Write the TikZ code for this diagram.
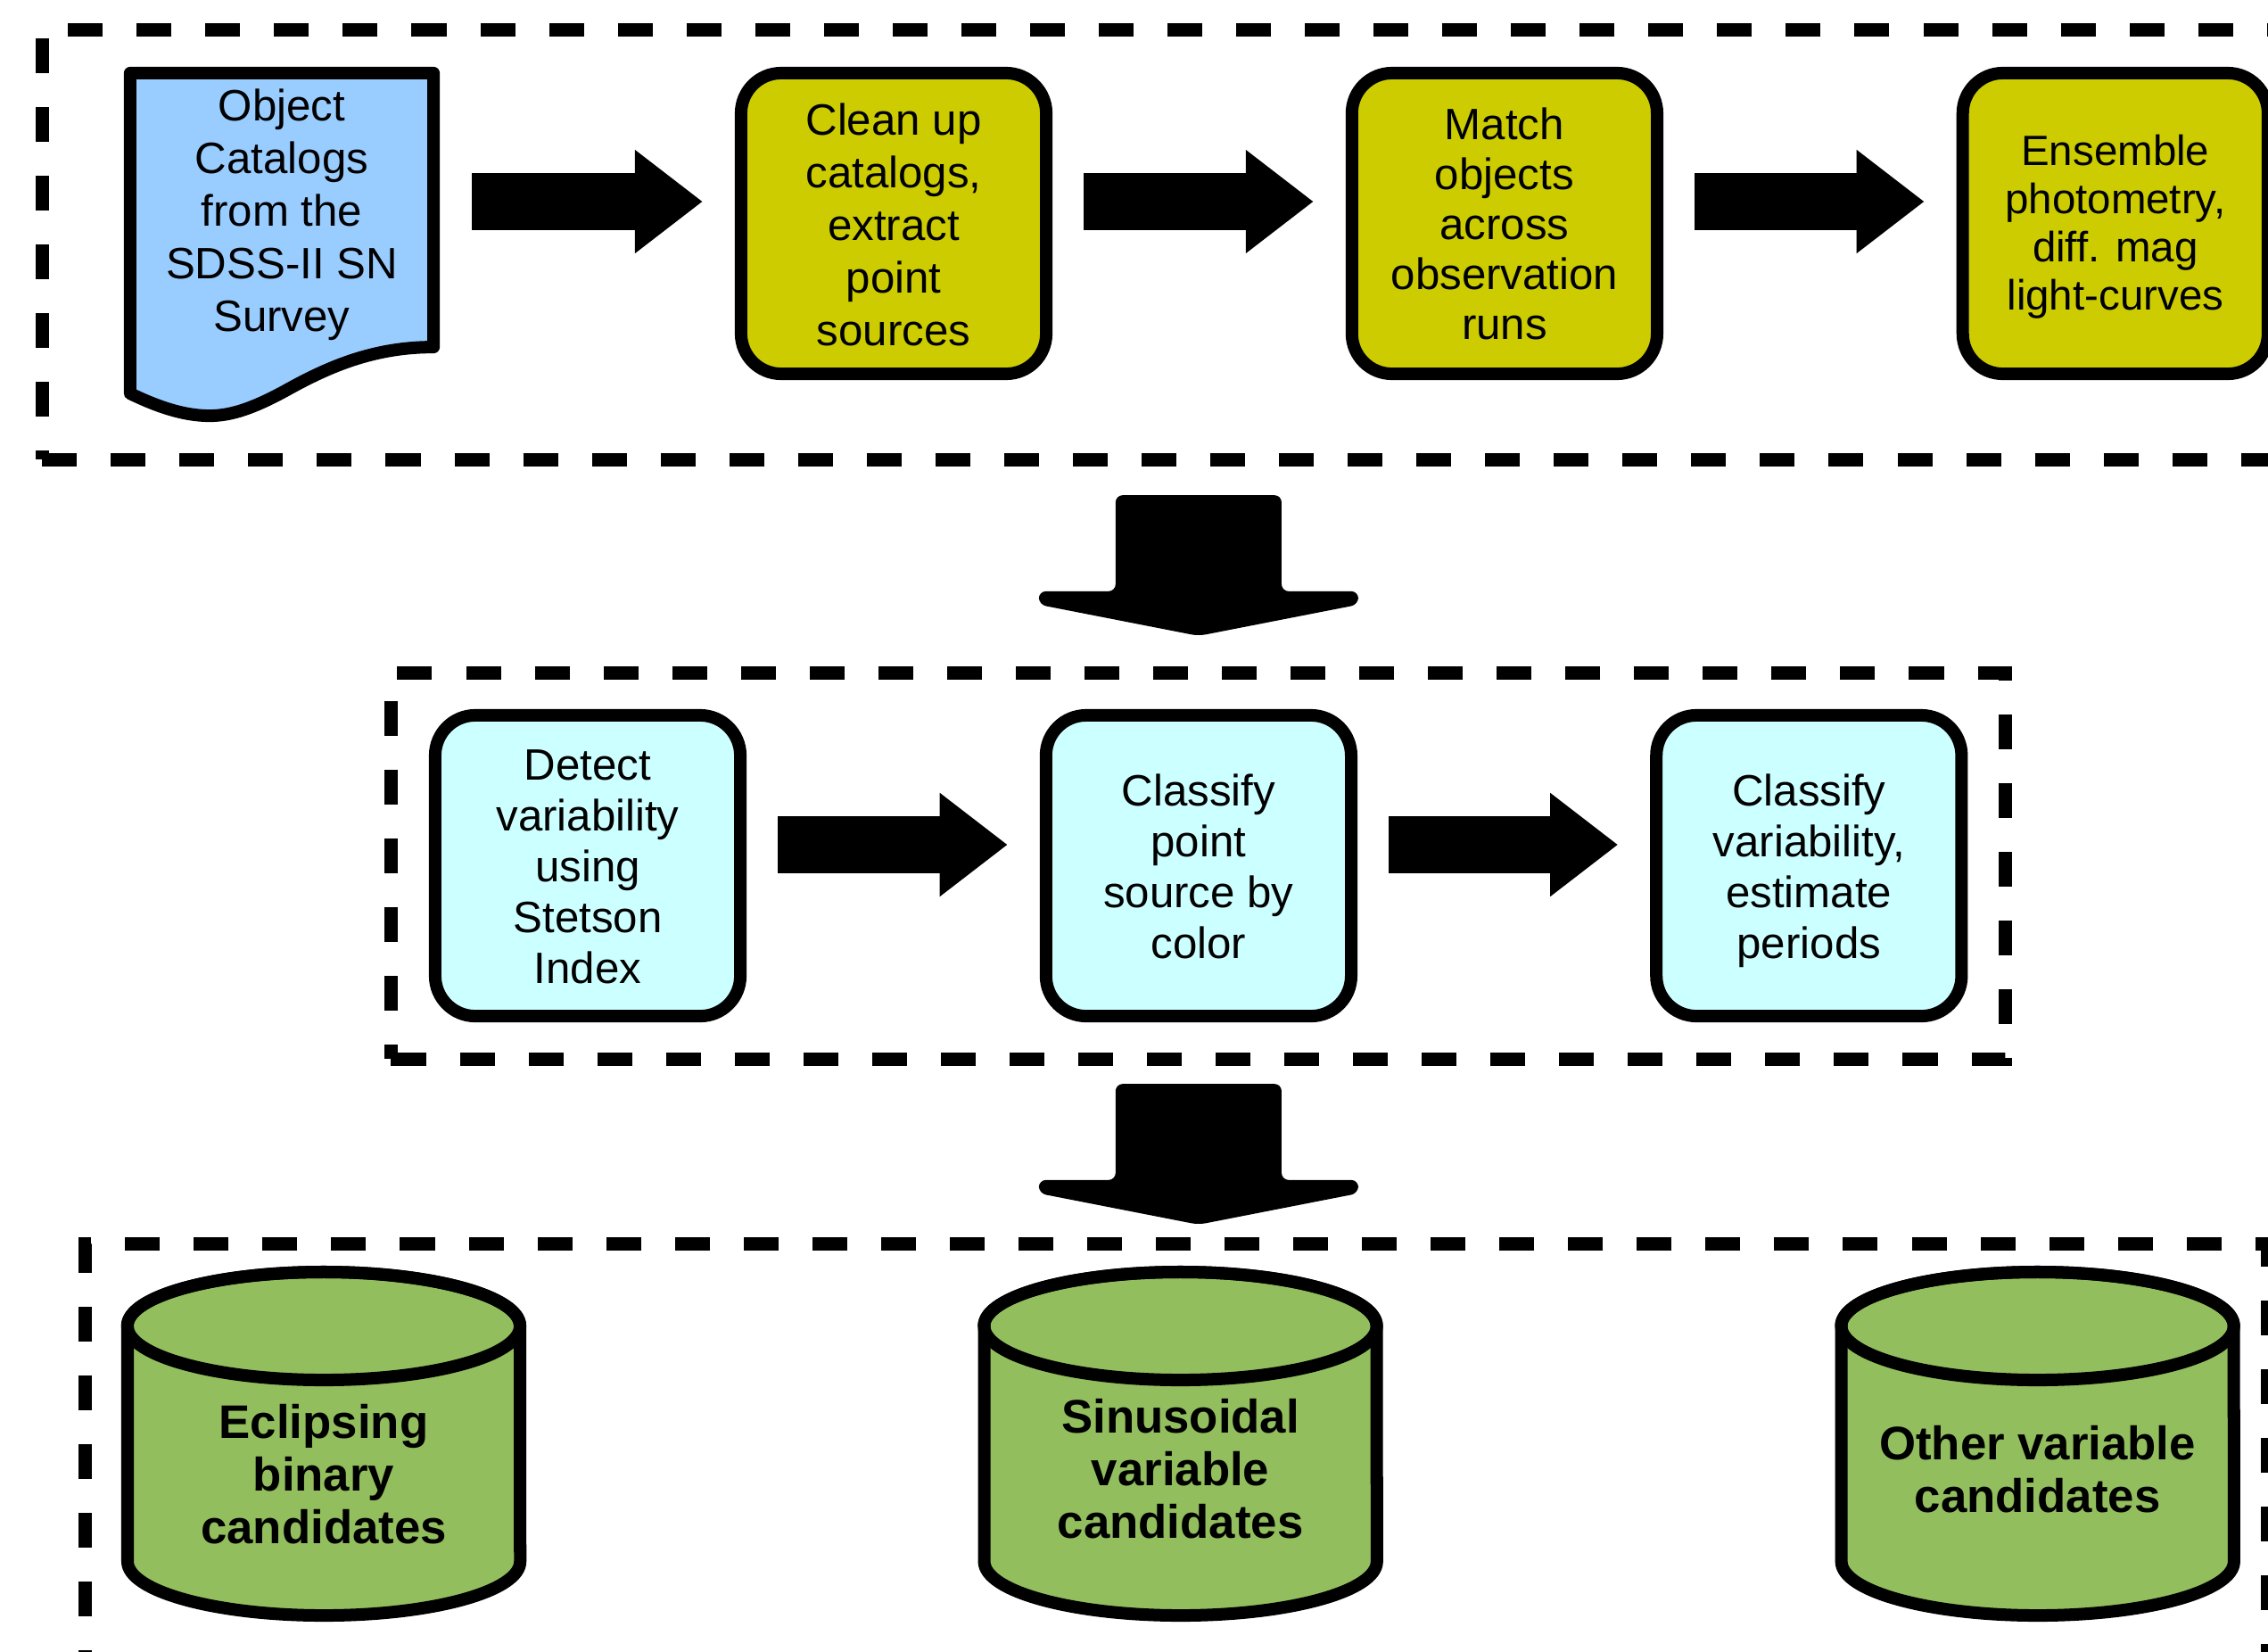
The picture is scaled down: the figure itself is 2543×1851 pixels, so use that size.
\documentclass[tikz,border=0pt]{standalone}
\usepackage{fontspec}
\setmainfont{Liberation Sans}
\usetikzlibrary{arrows.meta,calc,backgrounds}

\definecolor{docblue}{HTML}{99CCFF}
\definecolor{stepolive}{HTML}{CCCC00}
\definecolor{stepcyan}{HTML}{CCFFFF}
\definecolor{candgreen}{RGB}{146,190,94}

\tikzset{
    stage/.style={
           rectangle,
           rounded corners=0.45cm,
           draw=black, line width=0.14cm,
           minimum width=3.42cm,
           minimum height=3.37cm,
           inner sep=2pt,
           font=\fontsize{14pt}{16.2pt}\selectfont
           },
    docpage/.style={
           rectangle,
           minimum width=3.40cm,
           minimum height=3.37cm,
           inner sep=2pt, outer sep=0pt,
           font=\fontsize{14pt}{16.8pt}\selectfont
           },
    group/.style={
           rectangle,
           draw=black, line width=0.15cm,
           dash pattern=on 0.39cm off 0.38cm,
           outer sep=0pt
           },
    store/.style={
           rectangle,
           inner sep=2pt,
           font=\fontsize{15pt}{16.8pt}\selectfont\bfseries
           },
    drumline/.style={
           draw=black, line width=0.14cm, line join=round
           },
    flow/.style={
           line width=0.63cm,
           -{Triangle[length=0.76cm,width=1.11cm]},
           shorten <=0.35cm, shorten >=0.36cm
           },
}

% centred lines of a box, lifted or lowered a little
\newcommand{\lines}[2][-0.07cm]{\raisebox{#1}[\height][\depth]{\begin{tabular}{c}#2\end{tabular}}}

% wide arrow between two stages of the pipeline
\newcommand{\bigdown}[2]{%
  \fill[rounded corners=0.08cm] let \p1=#1, \p2=#2 in
    (\x1-0.93cm,\y1) -- (\x1+0.93cm,\y1) -- (\x1+0.93cm,\y2+0.50cm)
    -- (\x1+1.79cm,\y2+0.50cm) -- (\x1+1.79cm,\y2+0.35cm)
    -- (\x1,\y2) -- (\x1-1.79cm,\y2+0.35cm) -- (\x1-1.79cm,\y2+0.50cm)
    -- (\x1-0.93cm,\y2+0.50cm) -- cycle;}

% drum (database) drawn round a candidate node
\newcommand{\drum}[1]{%
  \draw[drumline, fill=candgreen] ($(#1.center)+(-220,-167.5)$) -- ($(#1.center)+(-220,96.5)$)
     arc[start angle=180, end angle=360, x radius=2.2cm, y radius=0.605cm]
     -- ($(#1.center)+(220,-167.5)$)
     arc[start angle=0, end angle=180, x radius=2.2cm, y radius=0.605cm] -- cycle;
  \draw[drumline] ($(#1.center)+(0,-167.5)$) ellipse [x radius=2.2cm, y radius=0.605cm];}

\begin{document}
\begin{tikzpicture}[x=0.01cm,y=-0.01cm]
            \useasboundingbox (0,0) rectangle (2543,1851);

%            stage boxes (dashed)
             \node[group, minimum width=25.27cm, minimum height=4.81cm] (grp1) at (1311.5,274.5) {};
             \node[group, minimum width=18.09cm, minimum height=4.32cm] (grp2) at (1343.5,971) {};
             \node[group, minimum width=24.46cm, minimum height=5.05cm] (grp3) at (1319,1647.5) {};

             \node[docpage] (doc) at (316,250.5)
             {\lines[0.09cm]{
              Object\\
              Catalogs\\
              from the\\
              SDSS-II SN\\
              Survey}};

             \node[stage, fill=stepolive,
              font=\fontsize{14pt}{16.8pt}\selectfont] (clean) at (1002,250.5)
             {\lines{
              Clean up\\
              catalogs,\\
              extract\\
              point\\
              sources}};

             \node[stage, fill=stepolive,
              right of=clean,
              node distance=6.845cm,
              anchor=center,
              font=\fontsize{14pt}{15.9pt}\selectfont] (match)
             {\lines{
              Match\\
              objects\\
              across\\
              observation\\
              runs}};

             \node[stage, fill=stepolive,
              right of=match,
              node distance=6.845cm,
              anchor=center,
              font=\fontsize{13.5pt}{15.4pt}\selectfont] (ensemble)
             {\lines[-0.05cm]{
              Ensemble\\
              photometry,\\
              diff. mag\\
              light-curves}};

             \node[stage, fill=stepcyan] (detect) at (659,970.5)
             {\lines{
              Detect\\
              variability\\
              using\\
              Stetson\\
              Index}};

             \node[stage, fill=stepcyan,
              right of=detect,
              node distance=6.845cm,
              anchor=center] (point)
             {\lines{
              Classify\\
              point\\
              source by\\
              color}};

             \node[stage, fill=stepcyan,
              right of=point,
              node distance=6.84cm,
              anchor=center] (period)
             {\lines{
              Classify\\
              variability,\\
              estimate\\
              periods}};

             \node[store] (eclipse) at (363,1654)
             {\lines[-0.06cm]{
              Eclipsing\\
              binary\\
              candidates}};

             \node[store, right of=eclipse, node distance=9.6cm, anchor=center] (sinus)
             {\lines[0pt]{
              Sinusoidal\\
              variable\\
              candidates}};

             \node[store, right of=sinus, node distance=9.605cm, anchor=center] (other)
             {\lines[0pt]{
              Other variable\\
              candidates}};

             \begin{scope}[on background layer]
             \draw[line width=0.14cm, line join=round, fill=docblue]
              (doc.north west) -- (doc.north east) -- ($(doc.south east)+(0,-30)$)
              .. controls +(-66,0) and +(50,-28) .. ($(doc.south west)+(174,19)$)
              .. controls +(-35,19) and +(25,0) .. ($(doc.south west)+(89,47)$)
              .. controls +(-30,0) and +(29,14) .. ($(doc.south west)+(0,22)$)
              -- cycle;
             \drum{eclipse}
             \drum{sinus}
             \drum{other}
             \end{scope}

             \path[transform canvas={yshift=0.245cm}]
             (doc)      edge[flow, shorten <=0.43cm] (clean)
             (clean)    edge[flow] (match)
             (match)    edge[flow] (ensemble);

             \path[transform canvas={yshift=0.235cm}]
             (detect)   edge[flow] (point)
             (point)    edge[flow] (period);

             \path (grp1.south -| point) ++(0,40) coordinate (d1top);
             \path (grp2.north -| point) ++(0,-42) coordinate (d1tip);
             \bigdown{(d1top)}{(d1tip)}
             \path (grp2.south -| point) ++(0,28) coordinate (d2top);
             \path (grp3.north -| point) ++(0,-22) coordinate (d2tip);
             \bigdown{(d2top)}{(d2tip)}

\end{tikzpicture}
\end{document}
